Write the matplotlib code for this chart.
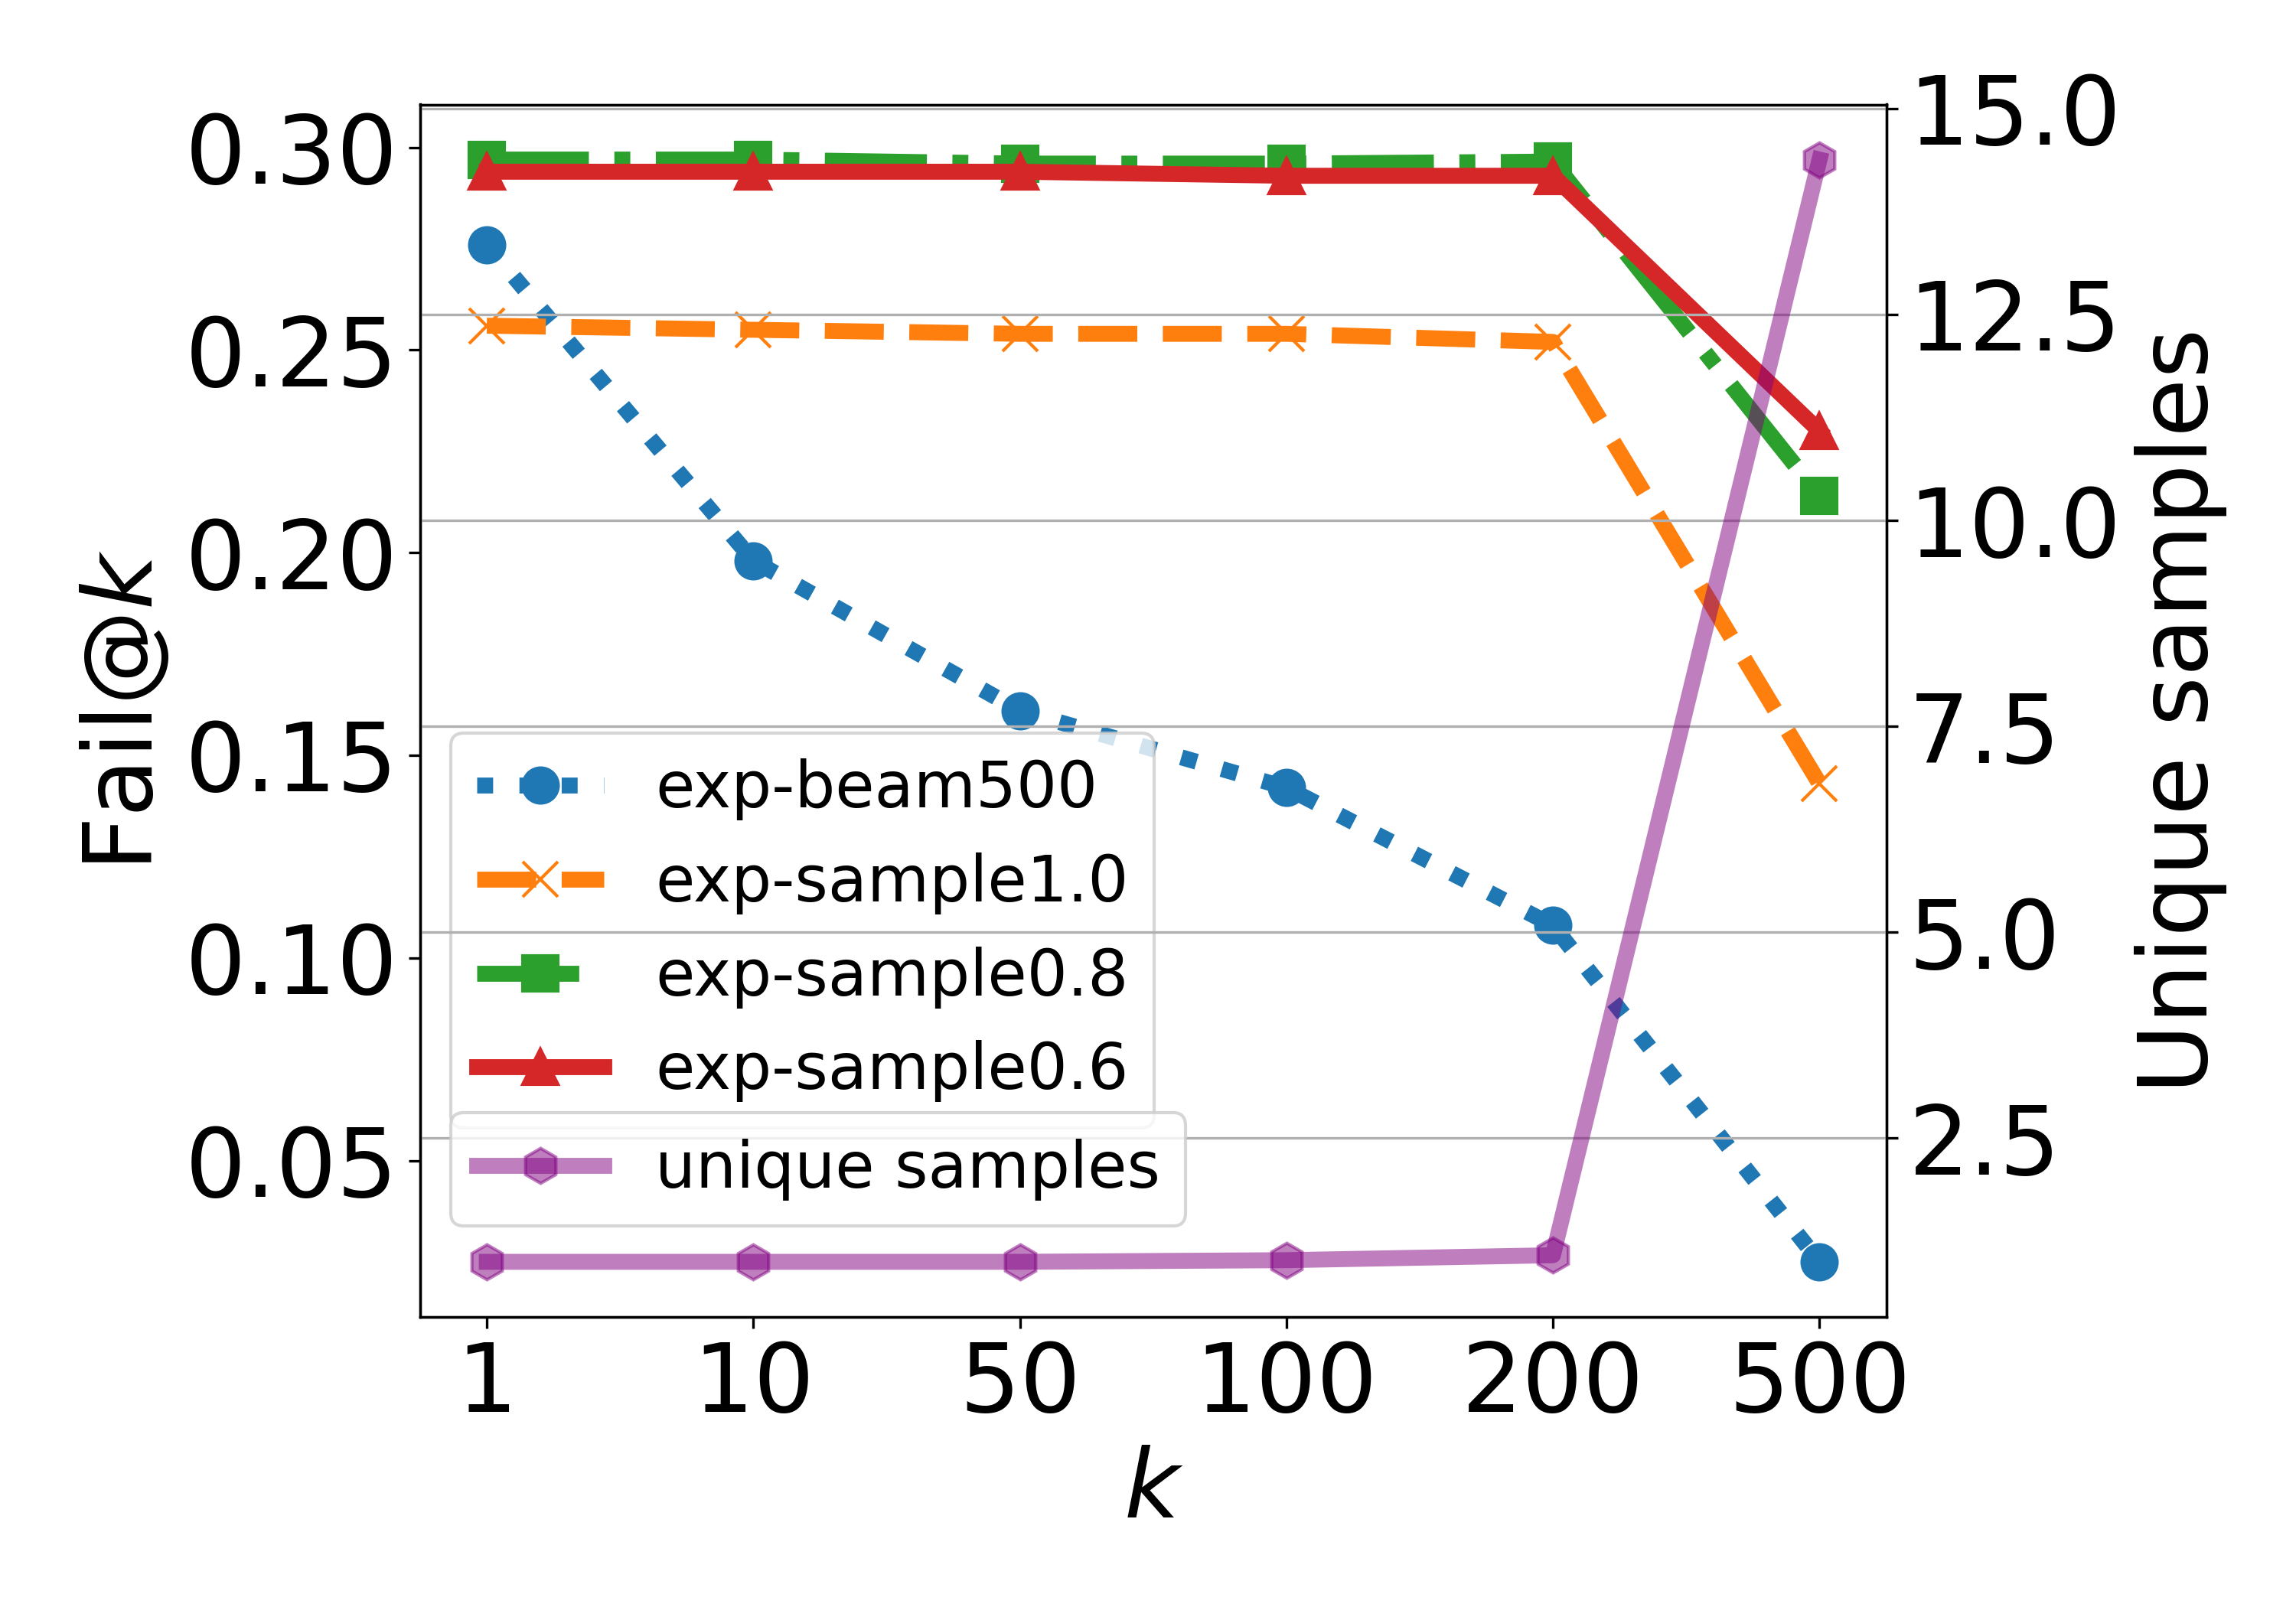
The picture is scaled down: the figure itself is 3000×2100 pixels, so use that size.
import matplotlib
matplotlib.use("Agg")
import matplotlib.pyplot as plt

k_labels = ['1', '10', '50', '100', '200', '500']

beam500 = [0.276, 0.198, 0.161, 0.142, 0.108, 0.025]
sample10 = [0.256, 0.255, 0.254, 0.254, 0.252, 0.143]
sample08 = [0.297, 0.297, 0.296, 0.296, 0.2965, 0.214]
sample06 = [0.294, 0.294, 0.294, 0.293, 0.293, 0.230]
unique_samples = [1.0, 1.0, 1.0, 1.02, 1.08, 14.38]

plt.rcParams['font.size'] = 30

fig, ax = plt.subplots(figsize=(10, 7), dpi=300)
fig.subplots_adjust(left=0.183, right=0.8215, bottom=0.1805, top=0.935)

x = list(range(len(k_labels)))
lw = 5
ms = 11

ax.plot(x, beam500, ':', marker='o', color='C0', lw=lw, ms=ms, label='exp-beam500')
ax.plot(x, sample10, '--', marker='x', color='C1', lw=lw, ms=ms, label='exp-sample1.0')
ax.plot(x, sample08, '-.', marker='s', color='C2', lw=lw, ms=ms, label='exp-sample0.8')
ax.plot(x, sample06, '-', marker='^', color='C3', lw=lw, ms=ms, label='exp-sample0.6')

ax.set_xticks(x)
ax.set_xticklabels(k_labels)
ax.set_yticks([0.05, 0.10, 0.15, 0.20, 0.25, 0.30])
ax.set_xlabel('$k$')
ax.set_ylabel('Fail@$k$')

ax2 = ax.twinx()
ax2.plot(x, unique_samples, '-', marker='h', color='purple', alpha=0.5,
         lw=lw, ms=ms, label='unique samples')
ax2.set_yticks([2.5, 5.0, 7.5, 10.0, 12.5, 15.0])
ax2.set_ylabel('Unique samples')
ax2.grid(True, axis='y')

ax.legend(loc='lower left', bbox_to_anchor=(0.021, 0.156), borderaxespad=0, fontsize=20)
ax2.legend(loc='lower left', bbox_to_anchor=(0.021, 0.075), borderaxespad=0, fontsize=20)

fig.savefig('out.png', dpi=300)
